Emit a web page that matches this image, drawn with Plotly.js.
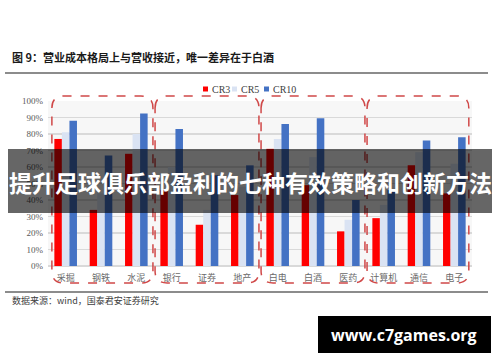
<!DOCTYPE html>
<html><head><meta charset="utf-8">
<script src="https://cdn.plot.ly/plotly-3.0.1.min.js"></script>
<style>html,body{margin:0;padding:0;background:#fff}#chart{width:500px;height:362px}</style>
</head><body><div id="chart"></div>
<script>
var categories = ['采掘','钢铁','水泥','银行','证券','地产','白电','白酒','医药','计算机','通信','电子'];
var cr3  = [0.77,0.34,0.68,0.46,0.25,0.43,0.71,0.49,0.21,0.29,0.61,0.44];
var cr5  = [0.81,0.44,0.80,0.60,0.34,0.48,0.77,0.66,0.28,0.37,0.69,0.62];
var cr10 = [0.88,0.67,0.925,0.83,0.55,0.61,0.86,0.895,0.40,0.46,0.76,0.78];
var seriesNames = ['CR3','CR5','CR10'];
var seriesColors = ['#ff0000','#dae3f3','#4472c4'];
var groups = [[0,2],[3,5],[6,8],[9,11]];

var W=500,H=362, L=48, R=28, T=101, B=96;
var pw=W-L-R, ph=H-T-B;
function px(x){return (x-L)/pw;}
function py(y){return (H-B-y)/ph;}
function catX(i){return (i+0.5)/categories.length;}

var data=[cr3,cr5,cr10].map(function(v,k){
  return {type:'bar',x:categories,y:v,name:seriesNames[k],marker:{color:seriesColors[k]},hoverinfo:'skip'};
});

var shapes=[], annotations=[];
var cw=1/categories.length;
groups.forEach(function(g,gi){
  var x0=catX(g[0])-cw*0.47+(gi===0?cw*0.08:0), x1=catX(g[1])+cw*0.47-(gi===3?cw*0.06:0);
  var y0=py(283), y1=py(96);
  var rx=12/pw, ry=12/ph;
  var p='M'+(x0)+','+(y1-ry)+' Q'+x0+','+y1+' '+(x0+rx)+','+y1+
        ' L'+(x1-rx)+','+y1+' Q'+x1+','+y1+' '+x1+','+(y1-ry)+
        ' L'+x1+','+(y0+ry)+' Q'+x1+','+y0+' '+(x1-rx)+','+y0+
        ' L'+(x0+rx)+','+y0+' Q'+x0+','+y0+' '+x0+','+(y0+ry)+' Z';
  shapes.push({type:'path',xref:'paper',yref:'paper',path:p,line:{color:'#d04848',width:1.5,dash:'dash'},layer:'above'});
});
shapes.push({type:'line',xref:'paper',yref:'paper',x0:px(5),x1:px(488),y0:py(73),y1:py(73),line:{color:'#8c8c8c',width:2}});
shapes.push({type:'line',xref:'paper',yref:'paper',x0:px(5),x1:px(488),y0:py(292),y1:py(292),line:{color:'#8c8c8c',width:2}});
var legX=[203,232,264], legTx=[210,239,271];
seriesNames.forEach(function(n,k){
  shapes.push({type:'rect',xref:'paper',yref:'paper',x0:px(legX[k]),x1:px(legX[k]+5),y0:py(91.5),y1:py(86.5),fillcolor:seriesColors[k],line:{width:0}});
  annotations.push({xref:'paper',yref:'paper',x:px(legTx[k]),y:py(89),xanchor:'left',yanchor:'middle',showarrow:false,text:n,font:{family:'Liberation Serif',size:10,color:'#404040'}});
});
annotations.push({xref:'paper',yref:'paper',x:px(10),y:py(57),xanchor:'left',yanchor:'middle',showarrow:false,
  text:'<b>图 9：营业成本格局上与营收接近，唯一差异在于白酒</b>',font:{family:'Noto Sans CJK SC',size:11,color:'#1a1a1a'}});
annotations.push({xref:'paper',yref:'paper',x:px(10),y:py(300),xanchor:'left',yanchor:'middle',showarrow:false,
  text:'数据来源：wind，国泰君安证券研究',font:{family:'Noto Sans CJK SC',size:9,color:'#404040'}});
shapes.push({type:'rect',xref:'paper',yref:'paper',x0:px(8),x1:px(492),y0:py(213),y1:py(149),fillcolor:'rgba(0,0,0,0.6)',line:{width:0},layer:'above'});
annotations.push({xref:'paper',yref:'paper',x:px(250),y:py(182),xanchor:'center',yanchor:'middle',showarrow:false,
  text:'<b>提升足球俱乐部盈利的七种有效策略和创新方法</b>',font:{family:'Noto Sans CJK SC',size:23,color:'#ffffff'}});
shapes.push({type:'rect',xref:'paper',yref:'paper',x0:px(318),x1:px(491),y0:py(353),y1:py(316),fillcolor:'#000000',line:{width:0},layer:'above'});
annotations.push({xref:'paper',yref:'paper',x:px(404),y:py(335),xanchor:'center',yanchor:'middle',showarrow:false,
  text:'<b>www.c7games.org</b>',font:{family:'Open Sans',size:16,color:'#ffffff'}});

var layout={
  width:W,height:H,margin:{l:L,r:R,t:T,b:B},
  paper_bgcolor:'#ffffff',plot_bgcolor:'#f7f7f7',
  showlegend:false,barmode:'group',bargap:0.36,bargroupgap:0,
  xaxis:{type:'category',tickfont:{family:'Noto Sans CJK SC',size:9,color:'#6a6a6a'},ticks:'',showgrid:false,showline:false,ticklabelstandoff:5},
  yaxis:{range:[0,1],dtick:0.1,tickformat:'.0%',tickfont:{family:'Liberation Serif',size:9,color:'#595959'},
         gridcolor:'#d9d9d9',gridwidth:1.5,zeroline:true,zerolinecolor:'#d9d9d9',zerolinewidth:1.5,ticks:'',ticklabelstandoff:4},
  shapes:shapes,annotations:annotations
};
Plotly.newPlot('chart',data,layout,{displayModeBar:false,staticPlot:true});
</script></body></html>
